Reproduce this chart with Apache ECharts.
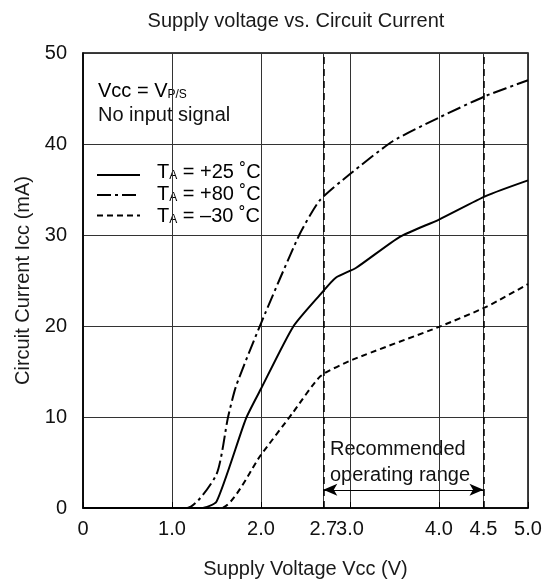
<!DOCTYPE html>
<html>
<head>
<meta charset="utf-8">
<script src="https://cdn.jsdelivr.net/npm/echarts@6/dist/echarts.min.js"></script>
<style>html,body{margin:0;padding:0;background:#fff}#c{width:545px;height:584px}</style>
</head>
<body>
<div id="c"></div>
<script>
// Data
var voltage25 = [0, 1.33, 1.50, 1.83, 2.00, 2.36, 2.67, 2.84, 3.07, 3.56, 4.00, 4.53, 5.00];
var current25 = [0, 0, 0.7, 9.8, 13.1, 19.9, 23.5, 25.3, 26.4, 29.8, 31.7, 34.3, 36.0];
var voltage80 = [0, 1.17, 1.50, 1.63, 1.72, 2.00, 2.43, 2.66, 3.00, 3.48, 4.00, 4.53, 5.00];
var current80 = [0, 0, 3.7, 10.0, 13.4, 20.3, 30.0, 33.8, 36.7, 40.3, 42.9, 45.3, 47.0];
var voltageM30 = [0, 1.55, 2.00, 2.36, 2.67, 3.03, 4.00, 4.53, 5.00];
var currentM30 = [0, 0, 5.85, 10.5, 14.5, 16.3, 19.9, 22.1, 24.6];
var xTickValues = [0, 1, 2, 2.7, 3, 4, 4.5, 5];
var xTickLabels = ['0', '1.0', '2.0', '2.7', '3.0', '4.0', '4.5', '5.0'];
var rangeBounds = [2.7, 4.5];
var arrowLevel = 2;

function pairs(xs, ys) { return xs.map(function (x, i) { return [x, ys[i]]; }); }

var FONT = 'Liberation Sans, Arial, sans-serif';
var chart = echarts.init(document.getElementById('c'), null, { renderer: 'canvas' });
var rich = {
  t: { fontSize: 20, fontFamily: FONT, color: '#111', lineHeight: 20 },
  s: { fontSize: 12, fontFamily: FONT, color: '#111', lineHeight: 14, verticalAlign: 'bottom' }
};
chart.setOption({
  animation: false,
  backgroundColor: '#fff',
  title: {
    text: 'Supply voltage vs. Circuit Current',
    left: 291, textAlign: 'center', top: 6,
    textStyle: { fontSize: 20, fontWeight: 'normal', fontFamily: FONT, color: '#1a1a1a' }
  },
  grid: { left: 83, right: 17, top: 53, bottom: 70, show: true, borderColor: '#000', borderWidth: 1.5, containLabel: false },
  xAxis: {
    type: 'value', min: 0, max: 5, interval: 1,
    name: 'Supply Voltage Vcc (V)', nameLocation: 'middle', nameGap: 51,
    nameTextStyle: { fontSize: 20, fontFamily: FONT, color: '#1a1a1a' },
    axisLine: { show: true, lineStyle: { color: '#000', width: 1.5 } },
    axisTick: { show: true, inside: true, length: 6, customValues: xTickValues, lineStyle: { color: '#000' } },
    axisLabel: {
      customValues: xTickValues, margin: 11, fontSize: 20, fontFamily: FONT, color: '#111',
      formatter: function (v) { var i = xTickValues.indexOf(v); return i >= 0 ? xTickLabels[i] : ''; }
    },
    splitLine: { show: true, lineStyle: { color: '#333', width: 1 } }
  },
  yAxis: {
    type: 'value', min: 0, max: 50, interval: 10,
    name: 'Circuit Current Icc (mA)', nameLocation: 'middle', nameGap: 42,
    nameTextStyle: { fontSize: 20, fontFamily: FONT, color: '#1a1a1a' },
    axisLine: { show: true, lineStyle: { color: '#000', width: 1.5 } },
    axisTick: { show: false },
    axisLabel: { margin: 16, fontSize: 20, fontFamily: FONT, color: '#111' },
    splitLine: { show: true, lineStyle: { color: '#333', width: 1 } }
  },
  series: [
    {
      name: 'TA = +25 °C', type: 'line', data: pairs(voltage25, current25), showSymbol: false, smooth: 0.2,
      lineStyle: { color: '#000', width: 2, type: 'solid' }, z: 5,
      markLine: {
        silent: true, symbol: ['none', 'none'],
        lineStyle: { color: '#000', width: 1.5, type: [7, 5] },
        label: { show: false },
        data: rangeBounds.map(function (v) { return { xAxis: v }; })
      }
    },
    {
      name: 'TA = +80 °C', type: 'line', data: pairs(voltage80, current80), showSymbol: false, smooth: 0.2,
      lineStyle: { color: '#000', width: 2, type: [14, 4, 3, 4] }, z: 5,
      markLine: {
        silent: true, symbol: ['arrow', 'arrow'], symbolSize: [9, 14],
        lineStyle: { color: '#000', width: 1, type: 'solid' },
        label: { show: false },
        data: [[{ coord: [rangeBounds[0], arrowLevel] }, { coord: [rangeBounds[1], arrowLevel] }]]
      }
    },
    {
      name: 'TA = –30 °C', type: 'line', data: pairs(voltageM30, currentM30), showSymbol: false, smooth: 0.2,
      lineStyle: { color: '#000', width: 2, type: [6, 4] }, z: 5
    }
  ],
  graphic: [
    { type: 'text', left: 98, top: 81, style: { text: '{t|Vcc = V}{s|P/S}', rich: rich } },
    { type: 'text', left: 98, top: 105, style: { text: 'No input signal', fontSize: 20, fontFamily: FONT, fill: '#111' } },
    { type: 'line', shape: { x1: 97, y1: 175, x2: 140, y2: 175 }, style: { stroke: '#000', lineWidth: 2 } },
    { type: 'line', shape: { x1: 97, y1: 195, x2: 140, y2: 195 }, style: { stroke: '#000', lineWidth: 2, lineDash: [14, 4, 3, 4] } },
    { type: 'line', shape: { x1: 97, y1: 215.5, x2: 140, y2: 215.5 }, style: { stroke: '#000', lineWidth: 2, lineDash: [6, 4] } },
    { type: 'text', left: 157, top: 162, style: { text: '{t|T}{s|A}{t| = +25 ˚C}', rich: rich } },
    { type: 'text', left: 157, top: 184, style: { text: '{t|T}{s|A}{t| = +80 ˚C}', rich: rich } },
    { type: 'text', left: 157, top: 206, style: { text: '{t|T}{s|A}{t| = –30 ˚C}', rich: rich } },
    { type: 'text', left: 330, top: 439, style: { text: 'Recommended', fontSize: 20, fontFamily: FONT, fill: '#111' } },
    { type: 'text', left: 330, top: 465, style: { text: 'operating range', fontSize: 20, fontFamily: FONT, fill: '#111' } }
  ]
});
</script>
</body>
</html>
